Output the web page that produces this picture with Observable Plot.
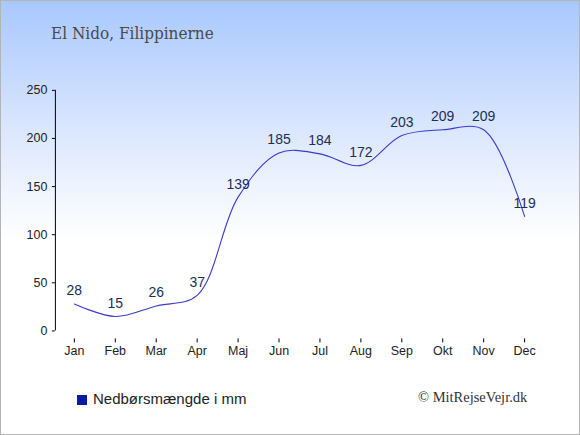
<!DOCTYPE html>
<html>
<head>
<meta charset="utf-8">
<script src="https://cdn.jsdelivr.net/npm/d3@7"></script>
<script src="https://cdn.jsdelivr.net/npm/@observablehq/plot@0.6"></script>
<style>
  html, body { margin: 0; padding: 0; }
  #wrap {
    position: relative; width: 580px; height: 435px; box-sizing: border-box;
    border: 1px solid #b4b4b4;
    background: linear-gradient(to bottom, #a8c8fe 0%, #dbe7fe 30%, #ffffff 55%, #ffffff 100%);
    overflow: hidden;
  }
  #title { position: absolute; left: 50px; top: 24px; line-height: 1; font-family: "DejaVu Serif Condensed", "DejaVu Serif", serif; font-stretch: condensed; font-size: 17px; color: #4a4a4a; white-space: nowrap; }
  #legend { position: absolute; left: 76px; top: 389px; font-family: "Liberation Sans", Arial, sans-serif; font-size: 15px; color: #222; white-space: nowrap; }
  #legend span.sw { display: inline-block; width: 10px; height: 10px; background: #0c18a8; margin-right: 6px; vertical-align: -1px; }
  #copy { position: absolute; left: 417px; top: 388px; font-family: "Liberation Serif", "Times New Roman", serif; font-size: 14.5px; color: #333; white-space: nowrap; }
  #chart { position: absolute; left: -1px; top: -1px; }
</style>
</head>
<body>
<div id="wrap">
  <div id="chart"></div>
  <div id="title">El Nido, Filippinerne</div>
  <div id="legend"><span class="sw"></span>Nedbørsmængde i mm</div>
  <div id="copy">© MitRejseVejr.dk</div>
</div>
<script>
const months = ["Jan","Feb","Mar","Apr","Maj","Jun","Jul","Aug","Sep","Okt","Nov","Dec"];
const rain = [28,15,26,37,139,185,184,172,203,209,209,119];
const yTicks = [0,50,100,150,200,250];

const data = months.map((m, i) => ({month: m, value: rain[i]}));

const chart = Plot.plot({
  width: 580,
  height: 435,
  marginTop: 90,
  marginBottom: 104,
  marginLeft: 74,
  marginRight: 55,
  style: {background: "transparent", fontFamily: "Liberation Sans, Arial, sans-serif", fontSize: "12.5px", color: "#222"},
  x: {type: "point", domain: months, padding: 0, label: null},
  y: {domain: [0, 250], label: null},
  marks: [
    Plot.ruleX([months[0]], {y1: 0, y2: 250, dx: -19, stroke: "#000"}),
    Plot.axisY({ticks: yTicks, anchor: "left", dx: -19, tickSize: 3, tickPadding: 5, label: null, stroke: "#000", fill: "#222"}),
    Plot.ruleY([0], {x1: months[0], x2: months[11], dy: 10, stroke: "#000"}),
    Plot.axisX({anchor: "bottom", dy: 8, tickSize: 4, tickPadding: 3, label: null, stroke: "#000", fill: "#222"}),
    Plot.line(data, {x: "month", y: "value", curve: "catmull-rom", stroke: "#3a3acc", strokeWidth: 1.1}),
    Plot.text(data, {x: "month", y: "value", text: d => String(d.value), dy: -13, fill: "#1c2f55", fontSize: 14})
  ]
});
document.getElementById("chart").appendChild(chart);
</script>
</body>
</html>
